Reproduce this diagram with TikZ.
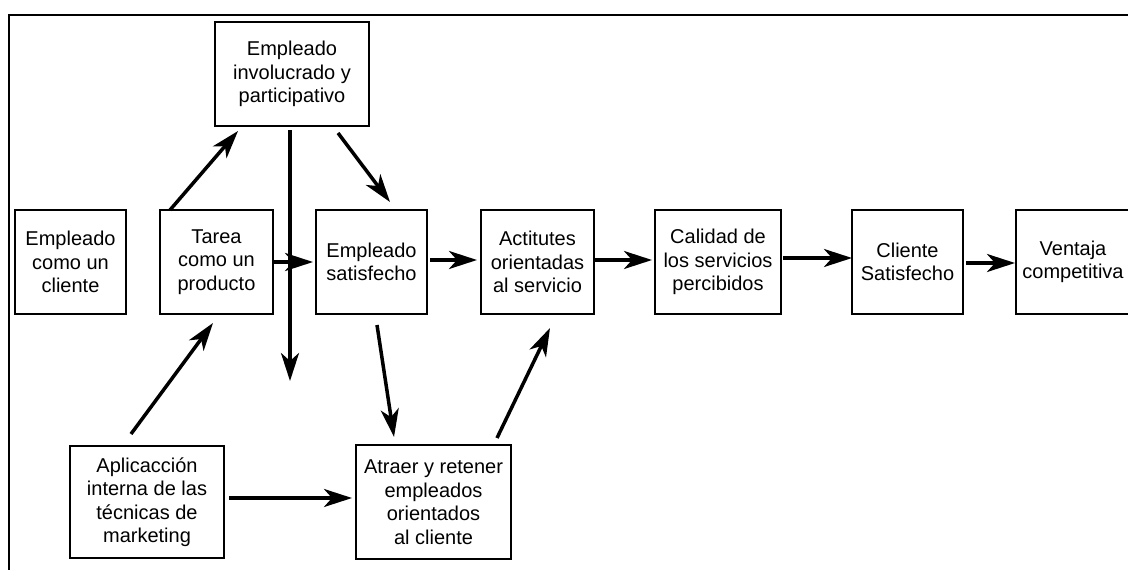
\documentclass[tikz,border=0pt]{standalone}
\usepackage{fontspec}
\setmainfont{Liberation Sans}
\usepackage{tikz}
\usetikzlibrary{arrows.meta,positioning}

\begin{document}
\begin{tikzpicture}[
  x=1pt, y=-1pt,
  node distance=40pt,
  box/.style={draw, line width=1.6pt, align=center, inner sep=2pt, outer sep=0pt,
              font=\fontsize{20}{23.5}\selectfont,
              minimum width=111pt, minimum height=104pt},
  arr/.style={-{Stealth[length=28pt, width=18pt, inset=8pt]}, line width=3.5pt}
]
\useasboundingbox (0,0) rectangle (1128,570);
% frame, cut by the page on the right and below
\draw[line width=2pt] (9,575) -- (9,15) -- (1135,15);

% main row
\node[box] (cliente) at (70.5,262) {Empleado\\como un\\cliente};
\node[box, minimum width=113pt, right=34pt of cliente] (tarea) {Tarea\\como un\\producto};
\node[box, right=43pt of tarea] (satisf) {Empleado\\satisfecho};
\node[box, minimum width=113pt, right=54pt of satisf] (actitud) {Actitutes\\orientadas\\al servicio};
\node[box, minimum width=126pt, right=61pt of actitud] (calidad) {Calidad de\\los servicios\\percibidos};
\node[box, right=71pt of calidad] (csatisf) {Cliente\\Satisfecho};
\node[box, minimum width=114pt, right=53pt of csatisf] (ventaja) {Ventaja\\competitiva};

% top and bottom boxes
\node[box, minimum width=154pt] (involucrado) at (292,74) {Empleado\\involucrado y\\participativo};
\node[box, minimum width=154pt, minimum height=112pt] (aplic) at (147,502) {Aplicacción\\interna de las\\técnicas de\\marketing};
\node[box, minimum width=155pt, minimum height=114pt] (atraer) at (433.5,502) {Atraer y retener\\empleados\\orientados\\al cliente};
\coordinate (bajada) at (290,381);

% connectors
\draw[arr] ([xshift=10pt]tarea.north west) -- ([xshift=23pt,yshift=-5pt]involucrado.south west);
\draw[arr] ([xshift=-2pt,yshift=-4pt]involucrado.south) -- (bajada);
\draw[arr] ([xshift=-31pt,yshift=-7pt]involucrado.south east) -- ([xshift=18.5pt,yshift=8pt]satisf.north);
\draw[arr, shorten >=3pt] (tarea.east) -- (satisf.west);
\draw[arr, shorten <=3pt, shorten >=4pt] ([yshift=2pt]satisf.east) -- ([yshift=2pt]actitud.west);
\draw[arr, shorten <=1pt, shorten >=3pt] ([yshift=2pt]actitud.east) -- ([yshift=2pt]calidad.west);
\draw[arr, shorten <=2pt] ([yshift=4pt]calidad.east) -- ([yshift=4pt]csatisf.west);
\draw[arr, shorten <=3pt, shorten >=1pt] ([yshift=-1pt]csatisf.east) -- ([yshift=-1pt]ventaja.west);
\draw[arr] ([xshift=5.5pt,yshift=-11pt]satisf.south) -- ([xshift=-39.5pt,yshift=8pt]atraer.north);
\draw[arr] ([xshift=-14pt,yshift=7pt]atraer.north east) -- ([xshift=12.5pt,yshift=-14pt]actitud.south);
\draw[arr] ([xshift=-16pt,yshift=12pt]aplic.north) -- ([xshift=-3.5pt,yshift=-9pt]tarea.south);
\draw[arr, shorten <=5pt, shorten >=4pt] ([yshift=4pt]aplic.east) -- ([yshift=4pt]atraer.west);
\end{tikzpicture}
\end{document}
